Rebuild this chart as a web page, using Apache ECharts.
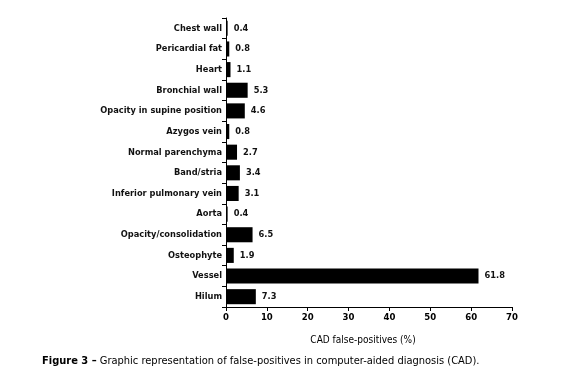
<!DOCTYPE html>
<html><head><meta charset="utf-8">
<script src="https://cdn.jsdelivr.net/npm/echarts@6/dist/echarts.min.js"></script>
<style>html,body{margin:0;padding:0;background:#fff}#c{width:570px;height:389px}</style>
</head><body><div id="c"></div>
<script>
const categories = ["Chest wall","Pericardial fat","Heart","Bronchial wall","Opacity in supine position","Azygos vein","Normal parenchyma","Band/stria","Inferior pulmonary vein","Aorta","Opacity/consolidation","Osteophyte","Vessel","Hilum"];
const values = [0.4,0.8,1.1,5.3,4.6,0.8,2.7,3.4,3.1,0.4,6.5,1.9,61.8,7.3];
const xTicks = [0,10,20,30,40,50,60,70];
const axisTitle = "CAD false-positives (%)";
const captionBold = "Figure 3 –";
const captionText = " Graphic representation of false-positives in computer-aided diagnosis (CAD).";
const F = "DejaVu Sans Condensed";
const chart = echarts.init(document.getElementById('c'));
chart.setOption({
  animation:false,
  grid:{left:226,right:58,top:18,bottom:82,containLabel:false},
  xAxis:{type:'value',min:0,max:70,interval:10,
    name:axisTitle,nameLocation:'middle',nameGap:28,
    nameTextStyle:{fontFamily:F,fontSize:10,color:'#000',padding:[0,12,0,0]},
    axisLine:{show:true,lineStyle:{color:'#000',width:1}},
    axisTick:{show:true,length:4,lineStyle:{color:'#000'}},
    axisLabel:{fontFamily:F,fontSize:9.5,fontWeight:'bold',color:'#000',margin:6,
      formatter:v=>xTicks.includes(v)?String(v):''},
    splitLine:{show:false}},
  yAxis:{type:'category',data:categories,inverse:true,
    axisLine:{show:true,lineStyle:{color:'#000',width:1}},
    axisTick:{show:true,length:4,lineStyle:{color:'#000'}},
    axisLabel:{fontFamily:F,fontSize:9.2,fontWeight:'bold',color:'#111',margin:4}},
  series:[{type:'bar',data:values,barCategoryGap:'27%',
    itemStyle:{color:'#000'},
    label:{show:true,position:'right',distance:6,fontFamily:F,fontSize:9.2,fontWeight:'bold',color:'#111',
      formatter:p=>p.value.toFixed(1)}}],
  graphic:[{type:'text',left:42,top:356,style:{
    rich:{b:{fontFamily:F,fontSize:11,fontWeight:900,fill:'#000'},n:{fontFamily:F,fontSize:11,fill:'#000'}},
    text:'{b|'+captionBold+'}{n|'+captionText+'}'}}]
});
</script></body></html>
